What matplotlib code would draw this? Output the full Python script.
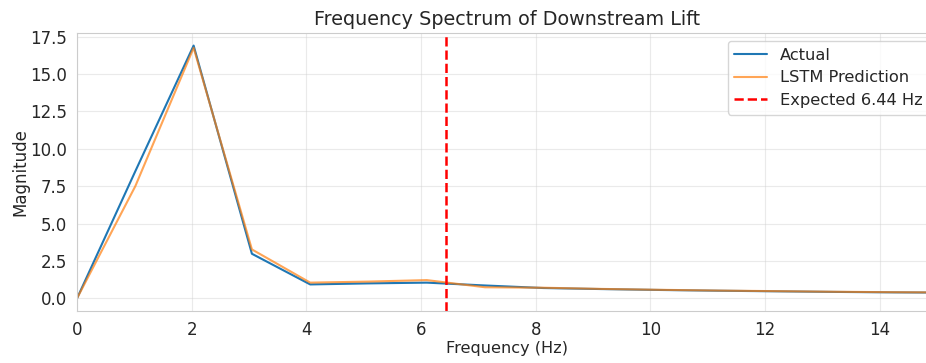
import numpy as np
import matplotlib
matplotlib.use("Agg")
import matplotlib.pyplot as plt
import seaborn as sns

sns.set_style("whitegrid")

# FFT bins (Hz) and magnitudes of the downstream lift signal
df = 1.0167
freqs = df * np.arange(16)
actual = [0.0, 8.5, 16.9, 2.98, 0.93, 1.0, 1.05, 0.86, 0.69, 0.62,
          0.56, 0.51, 0.47, 0.43, 0.40, 0.38]
predicted = [0.0, 7.5, 16.75, 3.27, 1.05, 1.12, 1.22, 0.74, 0.71, 0.63,
             0.57, 0.52, 0.48, 0.44, 0.41, 0.39]
expected_freq = 6.44

fig = plt.figure(figsize=(9.26, 3.63), dpi=100)
ax = fig.add_axes([0.0832, 0.1433, 0.9287, 0.766])

ax.plot(freqs, actual, color='#1f77b4', lw=1.5, label='Actual')
ax.plot(freqs, predicted, color='#ff7f0e', lw=1.5, alpha=0.7, label='LSTM Prediction')
ax.axvline(expected_freq, color='r', ls='--', lw=1.8, label='Expected %.2f Hz' % expected_freq)

ax.set_xlim(0, 15)
ax.set_title('Frequency Spectrum of Downstream Lift', fontsize=13.8)
ax.set_xlabel('Frequency (Hz)', fontsize=11.6, labelpad=2)
ax.set_ylabel('Magnitude', fontsize=12, labelpad=0.5)
ax.tick_params(labelsize=12)
ax.grid(True, alpha=0.4)
ax.legend(loc='upper right', fontsize=11.7, labelspacing=0.48)

fig.savefig('out.png', dpi=100)
